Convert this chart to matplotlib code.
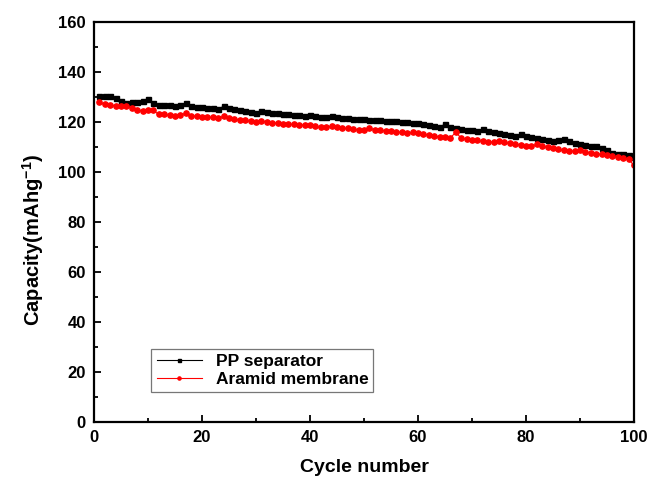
import matplotlib
matplotlib.use('Agg')
import matplotlib.pyplot as plt
import numpy as np
from matplotlib.ticker import MultipleLocator

cycles = np.arange(1, 101)

pp_separator = [
    130.3, 130.4, 130.2, 129.5, 128.5, 127.6, 127.8, 128.0, 128.2, 129.3,
    127.5, 126.8, 126.8, 126.6, 126.3, 126.9, 127.6, 126.3, 126.0, 125.9,
    125.7, 125.5, 125.3, 126.2, 125.5, 125.0, 124.8, 124.5, 124.0, 123.6,
    124.5, 123.9, 123.6, 123.5, 123.3, 123.0, 122.9, 122.8, 122.5, 122.6,
    122.2, 122.0, 122.1, 122.4, 121.8, 121.7, 121.5, 121.3, 121.2, 121.0,
    120.9, 120.8, 120.7, 120.5, 120.3, 120.2, 120.0, 119.8, 119.6, 119.4,
    119.0, 118.7, 118.3, 118.0, 119.1, 117.9, 117.5, 117.1, 116.9, 116.6,
    116.3, 117.3, 116.5, 116.0, 115.6, 115.2, 114.8, 114.3, 115.1, 114.5,
    114.0, 113.5, 113.0, 112.7, 112.4, 112.6, 113.0, 112.2, 111.5, 111.2,
    110.9, 110.5, 110.2, 109.6, 108.7, 107.6, 107.1, 107.3, 106.8, 106.0,
]

aramid_membrane = [
    128.0, 127.0, 126.7, 126.5, 126.4, 126.2, 125.6, 124.8, 124.4, 124.6,
    124.6, 123.0, 123.0, 122.6, 122.2, 122.7, 123.5, 122.5, 122.3, 122.1,
    122.0, 121.8, 121.4, 122.3, 121.5, 121.1, 120.8, 120.6, 120.3, 119.9,
    120.5, 120.0, 119.7, 119.5, 119.3, 119.1, 119.0, 118.9, 118.7, 118.6,
    118.2, 117.8, 118.0, 118.3, 117.8, 117.6, 117.4, 117.1, 116.9, 116.7,
    117.4, 116.9, 116.7, 116.5, 116.3, 116.1, 115.8, 115.5, 115.8, 115.5,
    115.2, 114.7, 114.4, 114.0, 113.8, 113.7, 115.9, 113.5, 113.2, 112.9,
    112.6, 112.3, 112.1, 112.0, 112.4, 111.8, 111.4, 111.1, 110.8, 110.4,
    110.2, 111.1, 110.3, 109.8, 109.4, 109.0, 108.6, 108.4, 108.3, 108.7,
    108.0, 107.6, 107.2, 107.0, 106.6, 106.2, 105.8, 105.5, 105.0, 102.6,
]

plt.rcParams['font.family'] = ['Liberation Sans', 'DejaVu Sans']
plt.rcParams['font.weight'] = 'bold'
plt.rcParams['mathtext.default'] = 'regular'

fig = plt.figure(figsize=(6.47, 4.78), dpi=100)
ax = fig.add_axes([0.1453, 0.1172, 0.8347, 0.8368])

ax.plot(cycles, pp_separator, color='black', marker='s', markersize=3.6,
        linewidth=0.8, label='PP separator')
ax.plot(cycles, aramid_membrane, color='red', marker='o', markersize=3.8,
        linewidth=0.8, label='Aramid membrane')

ax.set_xlim(0, 100)
ax.set_ylim(0, 160)
ax.xaxis.set_major_locator(MultipleLocator(20))
ax.xaxis.set_minor_locator(MultipleLocator(10))
ax.yaxis.set_major_locator(MultipleLocator(20))
ax.yaxis.set_minor_locator(MultipleLocator(10))
ax.tick_params(which='both', direction='in', top=False, right=False, width=1.3)
ax.tick_params(which='major', length=5, labelsize=12, pad=6)
ax.tick_params(which='minor', length=3)

for spine in ax.spines.values():
    spine.set_linewidth(1.6)

ax.set_xlabel('Cycle number', fontsize=14, fontweight='bold', labelpad=10)
ax.set_ylabel(r'Capacity(mAhg$^{-1}$)', fontsize=14.5, fontweight='bold')
ax.yaxis.set_label_coords(-0.088, 0.455)

leg = ax.legend(loc='upper left', bbox_to_anchor=(0.09, 0.205), fontsize=12.5,
                fancybox=False, edgecolor='#555555', markerscale=0.6,
                handlelength=2.6, borderpad=0.3, labelspacing=0.15)
leg.get_frame().set_linewidth(0.9)

fig.savefig('out.png', dpi=100)
